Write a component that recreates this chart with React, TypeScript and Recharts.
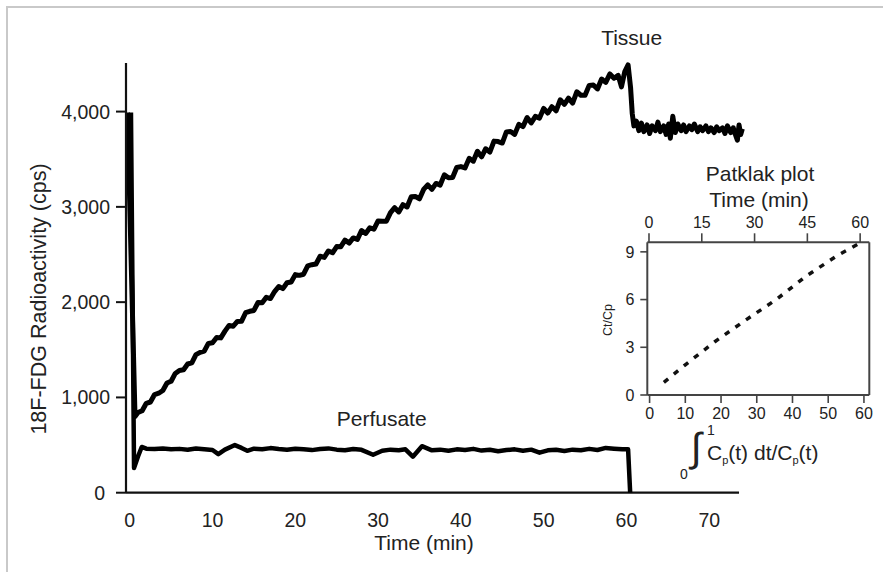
import React from 'react';
import { LineChart, Line, XAxis, YAxis, ReferenceLine } from 'recharts';

const FONT = '"Liberation Sans", Arial, Helvetica, sans-serif';

// Main chart axes
const timeTicks = [0, 10, 20, 30, 40, 50, 60, 70];
const cpsTicks = [0, 1000, 2000, 3000, 4000];

// Tissue curve (time in min, 18F-FDG counts per second)
const tissueTime = [
  -0.27, 0.64, 1, 1.5, 2, 2.5, 3, 3.5, 4, 4.5, 5, 5.5, 6, 6.5, 7, 7.5, 8, 8.5, 9, 9.5,
  10, 10.5, 11, 11.5, 12, 12.5, 13, 13.5, 14, 14.5, 15, 15.5, 16, 16.5, 17, 17.5, 18, 18.5, 19, 19.5,
  20, 20.5, 21, 21.5, 22, 22.5, 23, 23.5, 24, 24.5, 25, 25.5, 26, 26.5, 27, 27.5, 28, 28.5, 29, 29.5,
  30, 30.5, 31, 31.5, 32, 32.5, 33, 33.5, 34, 34.5, 35, 35.5, 36, 36.5, 37, 37.5, 38, 38.5, 39, 39.5,
  40, 40.5, 41, 41.5, 42, 42.5, 43, 43.5, 44, 44.5, 45, 45.5, 46, 46.5, 47, 47.5, 48, 48.5, 49, 49.5,
  50, 50.5, 51, 51.5, 52, 52.5, 53, 53.5, 54, 54.5, 55, 55.5, 56, 56.5, 57, 57.5, 58, 58.5, 59, 59.4,
  59.8, 60.2, 60.5, 60.7, 60.9, 61.2, 61.5, 61.8, 62.1, 62.5, 62.8, 63.1, 63.5, 63.8, 64.1, 64.5, 64.8, 65.1,
  65.3, 65.6, 65.9, 66.2, 66.6, 66.9, 67.2, 67.6, 67.9, 68.2, 68.6, 68.9, 69.2, 69.6, 69.9, 70.2, 70.6, 70.9,
  71.2, 71.6, 71.9, 72.2, 72.6, 72.9, 73.2, 73.4, 73.6, 73.8, 74,
];
const tissueCps = [
  3990, 800, 841, 860, 938, 952, 1030, 1044, 1073, 1151, 1170, 1252, 1283, 1290, 1351, 1363, 1449, 1473, 1486, 1567,
  1573, 1629, 1625, 1696, 1756, 1747, 1798, 1799, 1889, 1904, 1913, 1996, 1993, 2051, 2038, 2111, 2164, 2142, 2204, 2212,
  2289, 2281, 2293, 2381, 2393, 2400, 2482, 2470, 2537, 2518, 2583, 2582, 2651, 2620, 2674, 2658, 2752, 2721, 2780, 2766,
  2852, 2848, 2849, 2940, 2991, 2947, 3023, 2999, 3105, 3108, 3085, 3183, 3231, 3184, 3246, 3229, 3336, 3305, 3308, 3413,
  3423, 3409, 3509, 3479, 3584, 3525, 3610, 3575, 3690, 3685, 3670, 3786, 3791, 3761, 3866, 3842, 3937, 3881, 3950, 3932,
  4033, 3985, 4051, 4008, 4124, 4075, 4141, 4090, 4208, 4172, 4171, 4275, 4279, 4238, 4342, 4306, 4395, 4350, 4380, 4260,
  4420, 4490, 4250, 3980, 3850, 3900, 3800, 3880, 3790, 3860, 3770, 3850, 3800, 3890, 3790, 3850, 3760, 3870,
  3720, 3950, 3780, 3870, 3800, 3860, 3790, 3850, 3810, 3870, 3790, 3840, 3800, 3850, 3790, 3830, 3780, 3840,
  3800, 3830, 3770, 3850, 3780, 3830, 3750, 3700, 3860, 3760, 3820,
];

// Perfusate curve
const perfusateTime = [
  0.15, 0.52, 1, 1.45, 2, 3, 4, 5, 6, 7, 8, 9, 10, 10.7, 11.5, 12.7, 13.5, 14.2, 15, 16, 17, 18, 19, 20,
  21, 22, 23, 24, 25, 26, 27, 28, 29.4, 30.5, 31.5, 32.5, 33.3, 34.2, 35.3, 36.5, 37.5, 38.5, 39.5, 40.5,
  41.5, 42.5, 43.5, 44.5, 45.5, 46.5, 47.5, 48.5, 49.5, 50.5, 51.5, 52.5, 53.5, 54.5, 55.5, 56.5, 57.5,
  58.5, 59.5, 60.2, 60.45,
];
const perfusateCps = [
  3990, 260, 380, 480, 462, 458, 465, 455, 460, 450, 463, 455, 448, 405, 452, 500, 470, 440, 462, 455, 468, 458, 450, 462,
  455, 447, 458, 465, 452, 445, 458, 450, 398, 440, 452, 445, 455, 378, 488, 445, 452, 440, 455, 448,
  460, 442, 450, 435, 448, 455, 440, 452, 420, 445, 450, 438, 452, 445, 460, 448, 470,
  462, 455, 455, 0,
];

// Inset: Patlak plot
const patlakX = [4.0, 9.9, 18.25, 26.9, 35.5, 43.8, 52.7, 58.7];
const patlakY = [0.8, 1.88, 3.35, 4.71, 6.01, 7.47, 8.79, 9.53];
const insetBottomTicks = [0, 10, 20, 30, 40, 50, 60];
const insetTopTicks = [0, 15, 30, 45, 60];
const insetYTicks = [0, 3, 6, 9];

const tissueData = tissueTime.map((t, i) => ({ t, v: tissueCps[i] }));
const perfusateData = perfusateTime.map((t, i) => ({ t, v: perfusateCps[i] }));
const patlakData = patlakX.map((x, i) => ({ x, y: patlakY[i] }));

const AXIS = '#111';
const TEXT = '#222';

const CpsTick = (props: any) => {
  const { x, y, payload } = props;
  const val = payload.value as number;
  const label = val.toLocaleString('en-US');
  return (
    <text x={val === 0 ? x - 5 : x} y={y} textAnchor="end" dominantBaseline="central" fontSize={19.5} fill={TEXT}>
      {label}
    </text>
  );
};

export default function App() {
  return (
    <div style={{ position: 'absolute', left: 0, top: 0, width: 883, height: 572, background: '#fff', fontFamily: FONT }}>
      <div
        style={{
          position: 'absolute',
          left: 5.5,
          top: 5.5,
          width: 900,
          height: 600,
          borderLeft: '2.5px solid #c9c9c9',
          borderTop: '2.5px solid #c9c9c9',
        }}
      />
      <div style={{ position: 'absolute', left: 0, top: 0 }}>
        <LineChart width={883} height={572} margin={{ top: 63, right: 139, bottom: 0, left: 0 }}>
          <XAxis
            xAxisId="m"
            type="number"
            dataKey="t"
            domain={[-0.45, 74.2]}
            ticks={timeTicks}
            interval={0}
            axisLine={false}
            tickLine={false}
            tickSize={0}
            tickMargin={20}
            height={79.3}
            tick={{ fontSize: 19.5, fill: TEXT }}
          />
          <YAxis
            yAxisId="m"
            type="number"
            domain={[0, 4510]}
            ticks={cpsTicks}
            interval={0}
            width={126}
            tickSize={10}
            tickMargin={6}
            axisLine={{ stroke: AXIS, strokeWidth: 2.2 }}
            tickLine={{ stroke: AXIS, strokeWidth: 2 }}
            tick={<CpsTick />}
          />
          <ReferenceLine
            xAxisId="m"
            yAxisId="m"
            segment={[{ x: -0.45, y: 0 }, { x: 73.6, y: 0 }]}
            stroke={AXIS}
            strokeWidth={2.2}
            ifOverflow="visible"
          />
          <Line
            xAxisId="m"
            yAxisId="m"
            data={perfusateData}
            dataKey="v"
            type="linear"
            stroke="#000"
            strokeWidth={4.5}
            strokeLinejoin="round"
            dot={false}
            activeDot={false}
            isAnimationActive={false}
          />
          <Line
            xAxisId="m"
            yAxisId="m"
            data={tissueData}
            dataKey="v"
            type="linear"
            stroke="#000"
            strokeWidth={5}
            strokeLinejoin="round"
            dot={false}
            activeDot={false}
            isAnimationActive={false}
          />
        </LineChart>
      </div>
      <div style={{ position: 'absolute', left: 0, top: 0 }}>
        <LineChart width={883} height={572} margin={{ top: 202.3, right: 12.7, bottom: 137, left: 607.3 }}>
          <XAxis
            xAxisId="b"
            type="number"
            dataKey="x"
            orientation="bottom"
            domain={[-0.64, 61.5]}
            ticks={insetBottomTicks}
            interval={0}
            height={40}
            tickSize={8}
            tickMargin={5}
            axisLine={{ stroke: '#444', strokeWidth: 2 }}
            tickLine={{ stroke: '#444', strokeWidth: 1.6 }}
            tick={{ fontSize: 16, fill: TEXT }}
          />
          <XAxis
            xAxisId="t"
            type="number"
            dataKey="x"
            orientation="top"
            domain={[-0.48, 62.6]}
            allowDataOverflow
            ticks={insetTopTicks}
            interval={0}
            height={40}
            tickSize={9}
            tickMargin={5}
            axisLine={{ stroke: '#444', strokeWidth: 2 }}
            tickLine={{ stroke: '#444', strokeWidth: 1.6 }}
            tick={{ fontSize: 16, fill: TEXT }}
          />
          <YAxis
            yAxisId="l"
            type="number"
            domain={[0, 9.6]}
            ticks={insetYTicks}
            interval={0}
            width={40}
            tickSize={7}
            tickMargin={6}
            axisLine={{ stroke: '#444', strokeWidth: 2 }}
            tickLine={{ stroke: '#444', strokeWidth: 1.6 }}
            tick={{ fontSize: 16, fill: TEXT }}
          />
          <YAxis
            yAxisId="r"
            type="number"
            orientation="right"
            domain={[0, 9.6]}
            width={1}
            tick={false}
            tickLine={false}
            axisLine={{ stroke: '#444', strokeWidth: 2 }}
          />
          <Line
            xAxisId="b"
            yAxisId="l"
            data={patlakData}
            dataKey="y"
            type="linear"
            stroke="#111"
            strokeWidth={3.5}
            strokeDasharray="5.5 7.4"
            dot={false}
            activeDot={false}
            isAnimationActive={false}
          />
        </LineChart>
      </div>
      <svg width={883} height={572} style={{ position: 'absolute', left: 0, top: 0, pointerEvents: 'none' }}>
        <g fill={TEXT} fontFamily={FONT}>
          <text transform="translate(39,299) rotate(-90)" textAnchor="middle" dominantBaseline="central" fontSize={21.5}>
            18F-FDG Radioactivity (cps)
          </text>
          <text x={424} y={550} textAnchor="middle" fontSize={21}>Time (min)</text>
          <text x={631.7} y={45} textAnchor="middle" fontSize={21}>Tissue</text>
          <text x={381.7} y={426} textAnchor="middle" fontSize={21}>Perfusate</text>
          <text x={760} y={181} textAnchor="middle" fontSize={21}>Patklak plot</text>
          <text x={759} y={206.7} textAnchor="middle" fontSize={21}>Time (min)</text>
          <text transform="translate(608,320) rotate(-90)" textAnchor="middle" dominantBaseline="central" fontSize={12.5}>
            Ct/Cp
          </text>
          <text x={684} y={479} textAnchor="middle" fontSize={14}>0</text>
          <text x={711} y={435} textAnchor="middle" fontSize={14}>1</text>
          <text x={696} y={461} textAnchor="middle" fontSize={40}>∫</text>
          <text x={707} y={460} fontSize={21}>
            C<tspan dy={4} fontSize={11}>p</tspan>
            <tspan dy={-4}>(t) dt/C</tspan>
            <tspan dy={4} fontSize={11}>p</tspan>
            <tspan dy={-4}>(t)</tspan>
          </text>
        </g>
      </svg>
    </div>
  );
}
